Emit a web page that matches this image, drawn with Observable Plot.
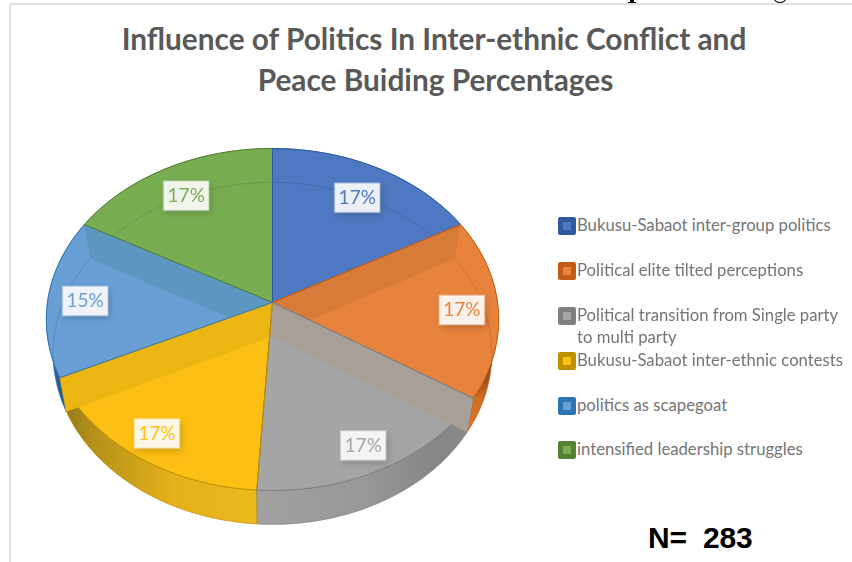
<!DOCTYPE html>
<html>
<head>
<meta charset="utf-8">
<script src="https://cdn.jsdelivr.net/npm/d3@7"></script>
<script src="https://cdn.jsdelivr.net/npm/@observablehq/plot@0.6"></script>
<style>
  html, body { margin: 0; padding: 0; background: #fff; }
  #page { position: relative; width: 852px; height: 562px; overflow: hidden; background: #fff; }
  #page svg { position: absolute; left: 0; top: 0; }
  .heading { position: absolute; color: #595959; font: 700 29.8px/41px Lato, sans-serif; text-align: center; white-space: nowrap; }
  .edge-h { position: absolute; left: 9px; right: 0; top: 3px; height: 2px; background: #e2e2e2; }
  .edge-v { position: absolute; left: 9px; top: 3px; bottom: 0; width: 2px; background: #e2e2e2; }
  .entry { position: absolute; left: 577px; color: #757575; font: 400 16.7px/22px Lato, sans-serif; white-space: nowrap; }
  .swatch { position: absolute; left: 558px; width: 18px; height: 18px; border-radius: 2px; box-sizing: border-box; border: 5px solid; }
  .sample { position: absolute; left: 648px; top: 520px; color: #000; font: 700 30px/36px "Liberation Sans", sans-serif; white-space: pre; letter-spacing: -0.2px; }
  .stem { position: absolute; left: 630px; top: 0; width: 4px; height: 3px; background: #000; }
  .stem-foot { position: absolute; left: 628px; top: 2px; width: 8px; height: 1px; background: #000; }
  .bowl { position: absolute; left: 774px; top: -5px; width: 10px; height: 6px; border: 1.5px solid #000; border-radius: 50%; }
  g[aria-label="dot"] { filter: drop-shadow(2px 3px 3px rgba(0,0,0,.2)); }
</style>
</head>
<body>
<div id="page"></div>
<script>
// Survey shares, in clockwise order from twelve o'clock
const categories = [
  "Bukusu-Sabaot inter-group politics",
  "Political elite tilted perceptions",
  "Political transition from Single party to multi party",
  "Bukusu-Sabaot inter-ethnic contests",
  "politics as scapegoat",
  "intensified leadership struggles"
];
const percents = [17, 17, 17, 17, 15, 17];
const sampleSize = 283;
const titleLines = ["Influence of Politics In Inter-ethnic Conflict and", "Peace Buiding Percentages"];

// Slice styling
const faceColors = ["#4e79c2", "#e8833e", "#a5a5a5", "#fcbf14", "#6a9fd6", "#79ad52"];
const edgeColors = ["#2f5b9e", "#c25d15", "#7f7f7f", "#bf9000", "#2e75b6", "#548235"];
const innerColors = ["#4e79c2", "#d87a38", "#a8a098", "#ecb612", "#5b97c0", "#79ad52"];
const labelRadii = [0.79, 0.84, 0.85, 0.85, 0.835, 0.805];
const labelTurns = [0, 0, 1, 0, 0, 0];

// Perspective tilt of the disc and the depth of its rim, in scale units
const tilt = 0.0994;
const rimDrop = 0.2;
const rimShrink = 0.97;

const project = (deg, r = 1) => {
  const t = deg * Math.PI / 180;
  const d = 1 + tilt * r * Math.cos(t);
  return {x: r * Math.sin(t) / d, y: r * Math.cos(t) / d};
};
const lower = (p) => ({x: p.x * rimShrink, y: p.y - rimDrop});

const ends = d3.cumsum(percents).map((v) => v * 3.6);
const starts = [0, ...ends.slice(0, -1)];
const sweep = (a, b) => d3.range(0, 61).map((i) => a + (b - a) * i / 60);

const outer = (a, b) => sweep(a, b).map((t) => project(t));
const wedge = (i) => {
  const ring = outer(starts[i], ends[i]);
  return [project(0, 0), ...ring, project(0, 0)];
};
// Front rim wall between the top edge and the lower ring
const wall = (i) => {
  const ring = outer(starts[i], ends[i]);
  return [...ring, ...ring.map(lower).reverse(), ring[0]];
};
// Inner wall seen through the translucent top, along a slice's leading side
const innerWall = (deg) => {
  const a = project(0, 0), b = project(deg);
  return [a, b, lower(b), lower(a), a];
};
const backArc = (a, b) => outer(a, b).map(lower);

const polygon = (pts, fill, stroke, extra = {}) =>
  Plot.line(pts, {x: "x", y: "y", fill, stroke: stroke ?? "none", strokeWidth: 1, curve: "linear", ...extra});

// Gradient definitions used by the rim walls
const gradients = () => {
  const defs = d3.create("svg:defs");
  const add = (id, stops, box) => {
    const g = defs.append("linearGradient").attr("id", id).attr("gradientUnits", "userSpaceOnUse");
    Object.entries(box).forEach(([k, v]) => g.attr(k, v));
    stops.forEach(([o, c]) => g.append("stop").attr("offset", o).attr("stop-color", c));
  };
  const across = {x1: 46, x2: 498, y1: 0, y2: 0};
  add("rim-yellow", [[0.03, "#8f7416"], [0.1, "#b4901a"], [0.28, "#e4b11a"], [0.5, "#efba1c"]], across);
  add("rim-gray", [[0.45, "#a2a2a2"], [0.7, "#989898"], [0.87, "#858585"], [0.95, "#8c8c8c"]], across);
  add("rim-blue", [[0, "#2f6ea8"], [0.05, "#1f4f80"]], across);
  add("rim-orange", [[0, "#c8661e"], [0.2, "#6b4a2a"], [0.45, "#a85a1a"], [0.6, "#d06a20"], [1, "#e07a28"]],
    {x1: 0, x2: 0, y1: 345, y2: 432});
  return defs.node();
};
const rimFills = ["#4e79c2", "url(#rim-orange)", "url(#rim-gray)", "url(#rim-yellow)", "url(#rim-blue)", "#548235"];

// One slice: the top face followed by the faint lower-ring arc that shows through it
const slice = (i, arcFrom, arcTo) => [
  polygon(wedge(i), faceColors[i], edgeColors[i]),
  arcFrom === undefined ? null : polygon(backArc(arcFrom, arcTo), "none", edgeColors[i], {strokeOpacity: 0.45})
];
const strip = (i, deg) => polygon(innerWall(deg), innerColors[i]);

const labels = percents.map((v, i) => ({
  text: `${v}%`,
  color: faceColors[i],
  ...project((starts[i] + ends[i]) / 2 + labelTurns[i], labelRadii[i])
}));
const labelBox = {draw(ctx) { ctx.rect(-22.5, -14.5, 45, 29); }};

const chart = Plot.plot({
  width: 852,
  height: 562,
  margin: 0,
  x: {domain: [-1, 1], range: [47, 497], axis: null},
  y: {domain: [-1, 1], range: [471.3, 132.7], axis: null},
  marks: [
    gradients,
    // Rim walls, rear to front
    ...[0, 5, 1, 4, 3, 2].map((i) => polygon(wall(i), rimFills[i], edgeColors[i], {strokeOpacity: 0.7})),
    // Top faces, each later slice covering what spills over from the earlier ones
    slice(0, 0, ends[0]),
    slice(5, starts[5], 360),
    slice(1, starts[1], 100),
    strip(1, starts[1]),
    slice(4, 258, ends[4]),
    strip(4, ends[4]),
    slice(3),
    strip(3, ends[3]),
    slice(2),
    strip(2, starts[2]),
    // Lines along the slice borders over the inner walls
    ...[5, 0, 1, 2, 3, 4].map((i) => polygon([project(0, 0), project(starts[i])], "none", edgeColors[i])),
    Plot.dot(labels, {
      x: "x", y: "y", dy: 3, symbol: labelBox, r: 10,
      fill: "white", fillOpacity: 0.9, stroke: "white", strokeOpacity: 0.35
    }),
    Plot.text(labels, {
      x: "x", y: "y", dy: 3, text: "text", fill: "color",
      fontFamily: "Lato, sans-serif", fontSize: 19
    })
  ]
});

const page = document.getElementById("page");
page.appendChild(chart);

const addDiv = (cls, text, css = {}) => {
  const el = document.createElement("div");
  el.className = cls;
  if (text) el.textContent = text;
  Object.assign(el.style, css);
  page.appendChild(el);
  return el;
};

addDiv("edge-h");
addDiv("edge-v");
// Ink left over from the running header that sits above the frame
addDiv("stem");
addDiv("stem-foot");
addDiv("bowl");
titleLines.forEach((line, i) =>
  addDiv("heading", line, {left: "0", width: `${868 + i * 3}px`, top: `${18 + i * 41}px`}));

// Legend rows
const rowTops = [214, 259, 304, 349, 394, 438];
categories.forEach((name, i) => {
  addDiv("swatch", "", {top: `${rowTops[i] + 3}px`, background: faceColors[i], borderColor: edgeColors[i]});
  const row = addDiv("entry", "", {top: `${rowTops[i]}px`});
  if (i === 2) {
    row.innerHTML = "Political transition from Single party<br>to multi party";
  } else {
    row.textContent = name;
  }
});

addDiv("sample", `N=  ${sampleSize}`);
</script>
</body>
</html>
